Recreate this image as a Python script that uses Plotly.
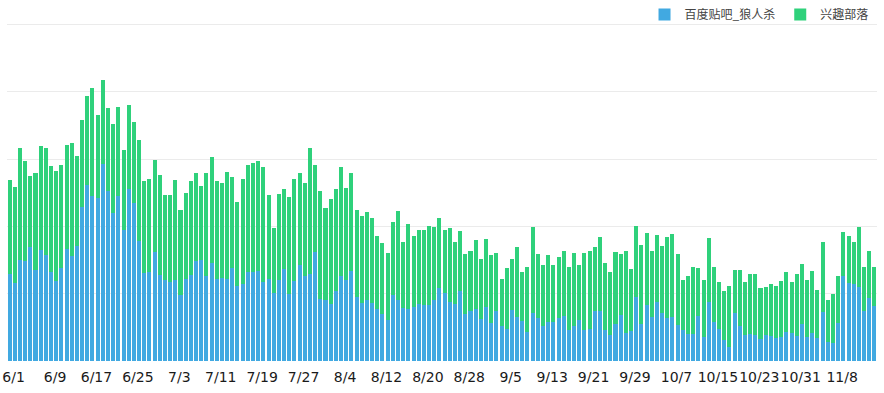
import pandas as pd
import plotly.graph_objects as go

# Categories: daily dates from 6/1 (168 days)
dates = [f"{d.month}/{d.day}" for d in pd.date_range("2019-06-01", periods=168, freq="D")]

series_names = ["百度贴吧_狼人杀", "兴趣部落"]

tieba = [
    129, 116, 150, 148, 169, 136, 165, 158, 133, 119, 138, 167, 156, 171, 229, 261, 246, 243, 293, 252,
    220, 246, 195, 255, 235, 178, 131, 132, 162, 128, 121, 117, 121, 98, 122, 128, 148, 150, 127, 146,
    122, 124, 122, 138, 112, 114, 132, 133, 134, 118, 122, 101, 120, 137, 99, 119, 143, 126, 129, 162,
    92, 91, 84, 104, 126, 120, 134, 95, 86, 90, 86, 78, 70, 61, 98, 91, 79, 77, 81, 84,
    83, 83, 90, 109, 101, 88, 84, 104, 70, 74, 78, 63, 80, 56, 74, 52, 47, 76, 66, 59,
    43, 72, 64, 52, 58, 58, 64, 67, 46, 52, 61, 46, 48, 75, 75, 46, 39, 55, 69, 42,
    44, 95, 55, 83, 65, 88, 72, 64, 66, 54, 46, 40, 40, 67, 36, 87, 58, 47, 31, 21,
    71, 52, 39, 40, 38, 32, 38, 37, 34, 35, 43, 41, 37, 55, 35, 42, 34, 73, 28, 27,
    56, 126, 116, 115, 110, 74, 94, 82,
]

buluo = [
    140, 142, 166, 149, 106, 143, 155, 158, 157, 163, 154, 154, 168, 134, 129, 133, 160, 122, 124, 124,
    133, 132, 118, 126, 120, 151, 137, 138, 137, 149, 126, 130, 148, 126, 127, 139, 132, 110, 153, 157,
    145, 140, 159, 136, 125, 157, 160, 162, 163, 171, 125, 96, 128, 118, 145, 152, 136, 138, 188, 129,
    161, 137, 157, 151, 162, 137, 145, 129, 129, 131, 127, 108, 105, 99, 109, 132, 98, 126, 105, 110,
    111, 117, 109, 104, 94, 109, 93, 89, 89, 89, 102, 89, 101, 101, 86, 70, 91, 76, 104, 74,
    96, 127, 95, 90, 99, 84, 91, 97, 93, 109, 81, 115, 116, 95, 110, 99, 93, 107, 90, 121,
    93, 105, 117, 107, 99, 99, 99, 120, 123, 105, 75, 86, 99, 71, 84, 96, 82, 70, 73, 91,
    64, 84, 78, 89, 92, 76, 72, 78, 78, 84, 90, 76, 93, 89, 86, 92, 72, 104, 62, 73,
    71, 66, 70, 62, 89, 66, 70, 58,
]

y_ticks = [0, 100, 200, 300, 400, 500]

colors = ["#41a9e1", "#2fd17b"]

fig = go.Figure()
for name, vals, col in zip(series_names, [tieba, buluo], colors):
    fig.add_trace(go.Bar(
        x=dates, y=vals, name=name,
        marker=dict(color=col, line=dict(width=0)),
    ))

fig.update_layout(
    width=884, height=393,
    barmode="stack", bargap=0.22,
    margin=dict(l=7, r=7, t=0, b=32, autoexpand=False),
    paper_bgcolor="white", plot_bgcolor="white",
    showlegend=True,
    legend=dict(
        orientation="h", x=0.996, xanchor="right", y=1.0, yanchor="top",
        font=dict(family="Noto Sans CJK SC", size=12, color="#444"),
        traceorder="normal",
        bgcolor="rgba(0,0,0,0)",
    ),
    font=dict(family="DejaVu Sans", size=14, color="#1a1a1a"),
    xaxis=dict(
        type="category", automargin=False,
        tickmode="array", tickvals=dates[::8], ticktext=dates[::8], tickangle=0,
        ticklabelshift=4, ticklabelstandoff=6,
        showgrid=False, showline=False, ticks="", zeroline=False,
        tickfont=dict(family="DejaVu Sans", size=14, color="#1a1a1a"),
        range=[-0.5, len(dates) - 0.5],
    ),
    yaxis=dict(
        range=[0, 536.6], tickvals=y_ticks, showticklabels=False, automargin=False,
        showgrid=True, gridcolor="#ebebeb", gridwidth=1,
        zeroline=False, showline=False, ticks="",
    ),
)

fig.write_html(
    "out.html",
    config={"displayModeBar": False},
    post_script="document.body.style.margin='0';",
)
